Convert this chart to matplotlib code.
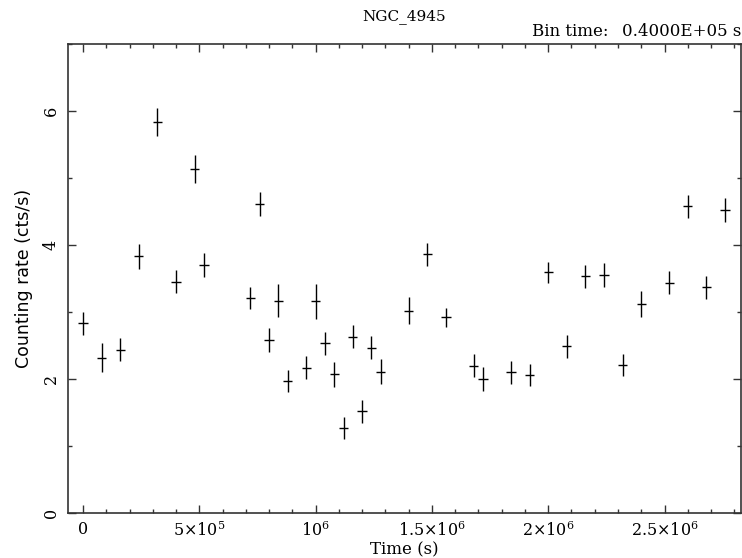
import matplotlib
matplotlib.use("Agg")
import matplotlib.pyplot as plt
from matplotlib.ticker import MultipleLocator, FixedLocator

# Data: time (s), counting rate (cts/s), rate error
time_s = [0, 8.0e4, 1.6e5, 2.4e5, 3.2e5, 4.0e5, 4.8e5, 5.2e5,
          7.2e5, 7.6e5, 8.0e5, 8.4e5, 8.8e5, 9.6e5, 1.0e6, 1.04e6,
          1.08e6, 1.12e6, 1.16e6, 1.20e6, 1.24e6, 1.28e6, 1.40e6,
          1.48e6, 1.56e6, 1.68e6, 1.72e6, 1.84e6, 1.92e6, 2.00e6,
          2.08e6, 2.16e6, 2.24e6, 2.32e6, 2.40e6, 2.52e6, 2.60e6,
          2.68e6, 2.76e6]
rate = [2.83, 2.32, 2.44, 3.83, 5.83, 3.45, 5.14, 3.70,
        3.21, 4.61, 2.58, 3.17, 1.97, 2.17, 3.16, 2.53,
        2.07, 1.27, 2.63, 1.52, 2.47, 2.11, 3.02,
        3.86, 2.92, 2.20, 2.00, 2.10, 2.06, 3.59,
        2.49, 3.53, 3.55, 2.21, 3.12, 3.44, 4.58,
        3.37, 4.52]
rate_err = [0.17, 0.21, 0.17, 0.19, 0.21, 0.17, 0.21, 0.18,
            0.16, 0.18, 0.18, 0.25, 0.16, 0.17, 0.26, 0.17,
            0.19, 0.17, 0.17, 0.17, 0.17, 0.19, 0.20,
            0.17, 0.14, 0.17, 0.18, 0.17, 0.16, 0.15,
            0.17, 0.17, 0.18, 0.17, 0.20, 0.17, 0.17,
            0.17, 0.18]
bin_half = 2.0e4

x_ticks = [0, 5e5, 1e6, 1.5e6, 2e6, 2.5e6]
x_ticklabels = [r"$0$", r"$5{\times}10^{5}$", r"$10^{6}$", r"$1.5{\times}10^{6}$",
                r"$2{\times}10^{6}$", r"$2.5{\times}10^{6}$"]
y_ticks = [0, 2, 4, 6]
y_ticklabels = ["0", "2", "4", "6"]

plt.rcParams['font.family'] = ['DejaVu Serif']
plt.rcParams['mathtext.fontset'] = 'dejavuserif'

fig = plt.figure(figsize=(7.42, 5.58), dpi=100)
ax = fig.add_axes([68/742, 45/558, 672.7/742, (513-44)/558])

ax.errorbar(time_s, rate, yerr=rate_err, xerr=bin_half, fmt='none',
            ecolor='black', elinewidth=1.0, capsize=0)

ax.set_xlim(-6.45e4, 2.8276e6)
ax.set_ylim(0, 7)

ax.xaxis.set_major_locator(FixedLocator(x_ticks))
ax.set_xticklabels(x_ticklabels, fontsize=11.5)
ax.xaxis.set_minor_locator(MultipleLocator(1e5))
ax.yaxis.set_major_locator(FixedLocator(y_ticks))
ax.set_yticklabels(y_ticklabels, fontsize=11.5, rotation=90, va='center')
ax.yaxis.set_minor_locator(MultipleLocator(1))

ax.tick_params(which='both', direction='in', top=True, right=True, color='#333333')
ax.tick_params(which='major', length=5.5, width=1.0, pad=6)
ax.tick_params(which='minor', length=2.9, width=1.0)
for s in ax.spines.values():
    s.set_color('#333333')
    s.set_linewidth(1.2)

ax.set_xlabel("Time (s)", fontsize=12, labelpad=1)
ax.set_ylabel("Counting rate (cts/s)", fontsize=12.5, family=['DejaVu Sans'])
ax.yaxis.set_label_coords(-0.052, 0.5)

fig.text(404/742, 1 - 16.5/558, "NGC_4945", ha='center', va='center', fontsize=11)
fig.text(532/742, 1 - 32/558, "Bin time:", ha='left', va='center', fontsize=12)
fig.text(741/742, 1 - 32/558, "0.4000E+05 s", ha='right', va='center', fontsize=12)

fig.savefig("out.png", dpi=100)
